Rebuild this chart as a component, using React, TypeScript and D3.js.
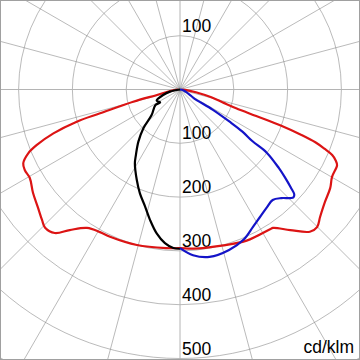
import { useEffect, useRef } from 'react';
import * as d3 from 'd3';

// C0-C180 plane (red), gamma in degrees, negative = left side
const redAngles = [-90, -85, -80, -76.7, -75.4, -73.4, -72.7, -70.9, -68.8, -67.2, -64.8, -62.6, -59.5, -54.9, -50.4, -46.6, -44.3, -41.1, -38.1, -33.9, -29.3, -25.4, -15.5, -5, 0, 5, 14.3, 23.8, 32.8, 33.9, 38.1, 42.4, 44.9, 47.7, 52.2, 56.7, 60.1, 64.3, 65.5, 66.7, 67.7, 68.7, 69.5, 70.3, 70.8, 71.5, 73, 76, 80, 85, 90];
const redValues = [4, 10, 22, 44, 90, 155, 201, 249, 286, 306, 322, 325, 324, 334, 343, 353, 359, 354, 332, 310, 304, 303, 300, 296, 295, 297, 300, 307, 309, 310, 332, 358, 361, 352, 341, 334, 326, 324, 318, 308, 290, 270, 240, 200, 150, 110, 85, 60, 30, 12, 4];

// C90 half plane (blue)
const blueAngles = [90, 78, 68, 62, 58, 58.3, 57, 56, 54.5, 53.9, 51.5, 50, 48.5, 47.5, 46.5, 45.5, 43, 40, 36.5, 32, 28, 23, 17, 10, 4.5, 0];
const blueValues = [0, 6, 12, 20, 30, 72, 110, 140, 165, 200, 235, 255, 275, 288, 291, 288, 276, 268, 272, 280, 289, 303, 312, 316, 309, 295];

// C270 half plane (black)
const blackAngles = [-90, -78, -72, -64.7, -57, -57.7, -48, -43.4, -38.6, -33.9, -31.4, -25.6, -21.1, -16.6, -12.9, -9.2, -5.6, -2.4, 0];
const blackValues = [0, 19, 33, 48, 44, 54, 71, 99, 124, 147, 161, 186, 207, 227, 249, 271, 287, 295, 296];

const ringValues = [100, 200, 300, 400, 500, 600];
const tickLabels = ['100', '200', '300', '400', '500'];
const unitLabel = 'cd/klm';

export default function App() {
    const svgRef = useRef<SVGSVGElement>(null);

    useEffect(() => {
        if (!svgRef.current) return;
        const width = 360;
        const height = 360;
        const cx = 180;
        const cy = 89.5;

        const svg = d3.select(svgRef.current);
        svg.selectAll('*').remove();
        svg.attr('viewBox', `0 0 ${width} ${height}`);

        const r = d3.scaleLinear().domain([0, 600]).range([0, 322.8]);

        svg.append('defs').append('clipPath').attr('id', 'frame')
            .append('rect').attr('x', 0).attr('y', 0).attr('width', width).attr('height', height);

        svg.append('rect').attr('width', width).attr('height', height).attr('fill', '#fff');

        const g = svg.append('g').attr('clip-path', 'url(#frame)')
            .append('g')
            .attr('transform', `translate(${cx},${cy})`);

        // rings
        g.selectAll('circle.ring')
            .data(ringValues)
            .enter()
            .append('circle')
            .attr('class', 'ring')
            .attr('r', d => r(d))
            .attr('fill', 'none')
            .attr('stroke', '#8c8c8c')
            .attr('stroke-width', 0.6);

        // spokes every 15 degrees
        const spokes = d3.range(0, 360, 15);
        g.selectAll('line.spoke')
            .data(spokes)
            .enter()
            .append('line')
            .attr('class', 'spoke')
            .attr('x1', 0)
            .attr('y1', 0)
            .attr('x2', d => Math.sin(d * Math.PI / 180) * 700)
            .attr('y2', d => Math.cos(d * Math.PI / 180) * 700)
            .attr('stroke', d => (d % 90 === 0 ? '#b4b4b4' : '#8c8c8c'))
            .attr('stroke-width', d => (d % 90 === 0 ? 1 : 0.6));

        // tick labels
        const font = 'Liberation Sans, Arial, sans-serif';
        g.append('text')
            .attr('x', 2)
            .attr('y', -r(100) - 4)
            .attr('font-family', font)
            .attr('font-size', 17.5)
            .attr('fill', '#000')
            .text(tickLabels[0]);

        g.selectAll('text.tick')
            .data(tickLabels)
            .enter()
            .append('text')
            .attr('class', 'tick')
            .attr('x', 2)
            .attr('y', d => r(+d) - 4)
            .attr('font-family', font)
            .attr('font-size', 17.5)
            .attr('fill', '#000')
            .text(d => d);

        svg.append('text')
            .attr('x', 354)
            .attr('y', 353)
            .attr('text-anchor', 'end')
            .attr('font-family', font)
            .attr('font-size', 17.5)
            .attr('fill', '#000')
            .text(unitLabel);

        const line = d3.lineRadial<[number, number]>()
            .angle(d => Math.PI - d[0] * Math.PI / 180)
            .radius(d => r(d[1]))
            .curve(d3.curveCatmullRom.alpha(0.5));

        const curves = [
            { a: redAngles, v: redValues, color: '#dc1414' },
            { a: blackAngles, v: blackValues, color: '#000000' },
            { a: blueAngles, v: blueValues, color: '#1414c8' },
        ];

        curves.forEach(c => {
            const pts = c.a.map((a, i) => [a, c.v[i]] as [number, number]);
            g.append('path')
                .attr('d', line(pts) || '')
                .attr('fill', 'none')
                .attr('stroke', c.color)
                .attr('stroke-width', 2.2)
                .attr('stroke-linejoin', 'round');
        });

        // frame
        svg.append('rect')
            .attr('x', 0.5)
            .attr('y', 0.5)
            .attr('width', width - 1)
            .attr('height', height - 1)
            .attr('fill', 'none')
            .attr('stroke', '#a0a0a0')
            .attr('stroke-width', 1);
    }, []);

    return (
        <svg ref={svgRef} width={360} height={360}
            style={{ position: 'fixed', left: 0, top: 0, display: 'block' }} />
    );
}
